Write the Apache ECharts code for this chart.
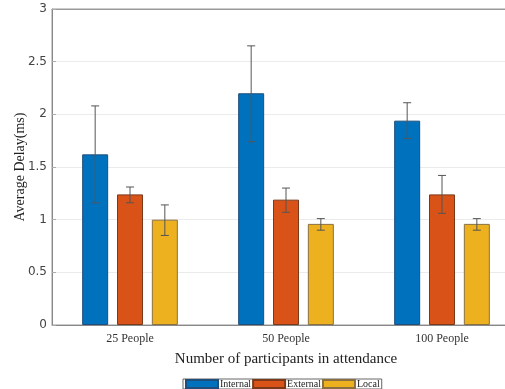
<!DOCTYPE html>
<html><head><meta charset="utf-8">
<script src="https://cdn.jsdelivr.net/npm/echarts@6/dist/echarts.min.js"></script>
<style>html,body{margin:0;padding:0;background:#fff;overflow:hidden}#c{width:505px;height:389px}</style>
</head><body><div id="c"></div>
<script>
const categories = ['25 People', '50 People', '100 People'];
const seriesNames = ['Internal', 'External', 'Local'];
const internalVals = [1.62, 2.20, 1.94];
const externalVals = [1.24, 1.19, 1.24];
const localVals = [1.00, 0.96, 0.96];
const internalLow = [1.16, 1.74, 1.77];
const internalHigh = [2.08, 2.65, 2.11];
const externalLow = [1.16, 1.07, 1.06];
const externalHigh = [1.31, 1.30, 1.42];
const localLow = [0.85, 0.90, 0.90];
const localHigh = [1.14, 1.01, 1.01];
const yTicks = [0, 0.5, 1, 1.5, 2, 2.5, 3];

const colors = ['#0072BD', '#D95319', '#EDB120'];
const borders = ['#1f4e7a', '#7a3a1a', '#8a7040'];
const BW = 26, GAP = 0.34;
const serif = '"Liberation Serif","DejaVu Serif",serif';

const values = [internalVals, externalVals, localVals];
const lows = [internalLow, externalLow, localLow];
const highs = [internalHigh, externalHigh, localHigh];

const errData = [];
for (let s = 0; s < 3; s++) for (let i = 0; i < categories.length; i++) errData.push([i, lows[s][i], highs[s][i], s]);

const chart = echarts.init(document.getElementById('c'));
chart.setOption({
  animation: false,
  color: colors,
  grid: { left: 52, width: 468, top: 9, height: 316, show: true, borderColor: '#999', borderWidth: 1,
          containLabel: false, outerBoundsMode: 'none' },
  legend: {
    top: 379, left: 183,
    data: seriesNames,
    itemWidth: 32, itemHeight: 8, itemGap: 1,
    padding: [0, 2, 0, 2],
    borderColor: '#666', borderWidth: 1,
    textStyle: { fontFamily: serif, fontSize: 10, lineHeight: 9, color: '#222', padding: [0, 0, 0, -3] },
    icon: 'rect'
  },
  xAxis: [{
    type: 'category', data: categories,
    axisLine: { lineStyle: { color: '#888' } },
    axisTick: { inside: true, alignWithLabel: true, length: 4, lineStyle: { color: '#777' } },
    axisLabel: { fontFamily: serif, fontSize: 12, color: '#333', margin: 8 },
    name: 'Number of participants in attendance', nameLocation: 'middle', nameGap: 27,
    nameMoveOverlap: false,
    nameTextStyle: { fontFamily: serif, fontSize: 15, color: '#222' }
  }, {
    type: 'category', data: categories, position: 'top',
    axisLine: { lineStyle: { color: '#999' } },
    axisTick: { inside: true, alignWithLabel: true, length: 4, lineStyle: { color: '#888' } },
    axisLabel: { show: false }
  }],
  yAxis: {
    type: 'value', min: yTicks[0], max: yTicks[yTicks.length - 1], interval: 0.5,
    axisLine: { show: true, lineStyle: { color: '#888' } },
    axisTick: { show: true, inside: true, length: 4, lineStyle: { color: '#aaa' } },
    splitLine: { lineStyle: { color: '#ebebeb' } },
    axisLabel: { fontFamily: '"DejaVu Sans",sans-serif', fontSize: 12, color: '#444', margin: 5 },
    name: 'Average Delay(ms)', nameLocation: 'middle', nameGap: 25,
    nameMoveOverlap: false,
    nameTextStyle: { fontFamily: serif, fontSize: 14, color: '#222' }
  },
  series: seriesNames.map((n, s) => ({
    name: n, type: 'bar', data: values[s], barWidth: BW, barGap: (GAP * 100) + '%',
    itemStyle: { color: colors[s], borderColor: borders[s], borderWidth: 1 }
  })).concat([{
    type: 'custom', name: 'err', data: errData, z: 10,
    renderItem: function (params, api) {
      const i = api.value(0), s = api.value(3);
      const off = (s - 1) * BW * (1 + GAP);
      const lo = api.coord([i, api.value(1)]);
      const hi = api.coord([i, api.value(2)]);
      const x = lo[0] + off, cw = 4;
      const st = { stroke: '#555', lineWidth: 1 };
      return { type: 'group', children: [
        { type: 'line', shape: { x1: x, y1: lo[1], x2: x, y2: hi[1] }, style: st },
        { type: 'line', shape: { x1: x - cw, y1: lo[1], x2: x + cw, y2: lo[1] }, style: st },
        { type: 'line', shape: { x1: x - cw, y1: hi[1], x2: x + cw, y2: hi[1] }, style: st }
      ] };
    },
    encode: { x: 0, y: [1, 2] }
  }])
});
</script></body></html>
